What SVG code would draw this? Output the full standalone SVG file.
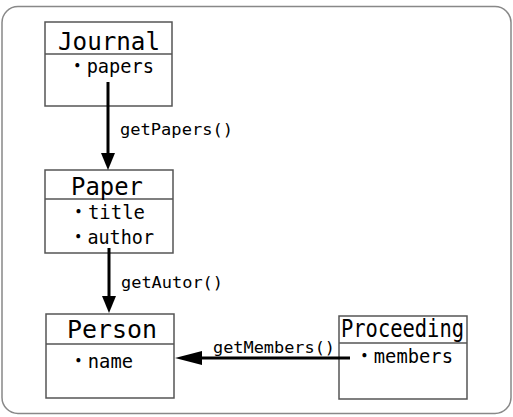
<svg xmlns="http://www.w3.org/2000/svg" width="513" height="417" viewBox="0 0 513 417">
<style>
.box{fill:#fff;stroke:#555;stroke-width:1.5}
.div{stroke:#555;stroke-width:1.5}
.t{font-family:"DejaVu Sans Mono","Noto Sans CJK JP",monospace;fill:#000}
.title{font-size:24px}
.attr{font-size:20px}
.lbl{font-size:15px}
.edge{stroke:#000;stroke-width:3;fill:none}
</style>
<rect x="2" y="6.5" width="509" height="407" rx="16" ry="16" fill="#fff" stroke="#888" stroke-width="1.5"/>
<g id="journal">
<rect class="box" x="45" y="22" width="127" height="84"/>
<line class="div" x1="45" y1="54" x2="172" y2="54"/>
<text class="t title" x="58" y="50" textLength="102" lengthAdjust="spacingAndGlyphs">Journal</text>
<text class="t attr" x="68" y="73" textLength="86" lengthAdjust="spacingAndGlyphs">・papers</text>
</g>
<g id="paper">
<rect class="box" x="45" y="170" width="128" height="83"/>
<line class="div" x1="45" y1="199" x2="173" y2="199"/>
<text class="t title" x="71" y="195" textLength="72" lengthAdjust="spacingAndGlyphs">Paper</text>
<text class="t attr" x="69" y="219" textLength="76" lengthAdjust="spacingAndGlyphs">・title</text>
<text class="t attr" x="69" y="244" textLength="85" lengthAdjust="spacingAndGlyphs">・author</text>
</g>
<g id="person">
<rect class="box" x="46" y="314" width="128" height="84"/>
<line class="div" x1="46" y1="344" x2="174" y2="344"/>
<text class="t title" x="67" y="338" textLength="90" lengthAdjust="spacingAndGlyphs">Person</text>
<text class="t attr" x="69" y="368" textLength="64" lengthAdjust="spacingAndGlyphs">・name</text>
</g>
<g id="proceeding">
<rect class="box" x="339" y="316" width="128" height="83"/>
<line class="div" x1="339" y1="343" x2="467" y2="343"/>
<text class="t title" x="341" y="337" textLength="123" lengthAdjust="spacingAndGlyphs">Proceeding</text>
<text class="t attr" x="355" y="363" textLength="98" lengthAdjust="spacingAndGlyphs">・members</text>
</g>
<g id="connectors">
<line class="edge" x1="108" y1="82" x2="108" y2="155"/>
<path d="M101,153 L115,153 L108,170 Z" fill="#000"/>
<line class="edge" x1="109" y1="248" x2="109" y2="298"/>
<path d="M102,296 L116,296 L109,313 Z" fill="#000"/>
<line class="edge" x1="350" y1="358" x2="200" y2="358"/>
<path d="M202,351 L202,365 L175,358 Z" fill="#000"/>
<text class="t lbl" x="120" y="135" textLength="113" lengthAdjust="spacingAndGlyphs">getPapers()</text>
<text class="t lbl" x="121" y="288" textLength="102" lengthAdjust="spacingAndGlyphs">getAutor()</text>
<text class="t lbl" x="213" y="353" textLength="122" lengthAdjust="spacingAndGlyphs">getMembers()</text>
</g>
</svg>
